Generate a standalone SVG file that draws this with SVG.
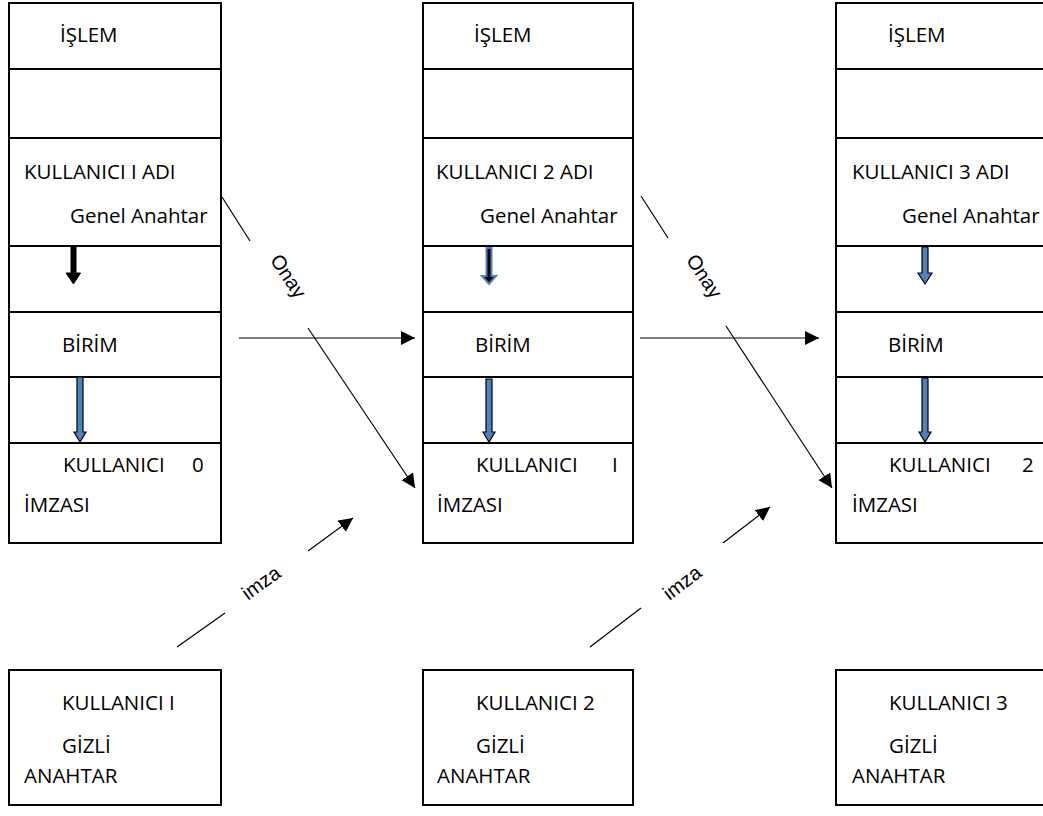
<svg xmlns="http://www.w3.org/2000/svg" width="1043" height="816" viewBox="0 0 1043 816">
<style>
.box{fill:#fff;stroke:#000;stroke-width:2}
.div{stroke:#000;stroke-width:2}
.t{font-family:"Open Sans","Noto Sans",sans-serif;font-size:20.5px;fill:#000}
.lbl{font-family:"Liberation Sans",Arial,sans-serif;font-size:20px;fill:#000}
.con{stroke:#000;stroke-width:1.2;fill:none}
.blk{fill:#000;stroke:#000;stroke-width:1}
.blu{fill:#4f81bd;stroke:#000;stroke-width:1.2}
.inv{fill:#000;stroke:#4f81bd;stroke-width:2}
</style>
<defs>
<marker id="ah" viewBox="0 0 10 10" refX="10" refY="5" markerWidth="14" markerHeight="14" markerUnits="userSpaceOnUse" orient="auto">
<path d="M0,0 L10,5 L0,10 Z" fill="#000"/>
</marker>
</defs>
<rect width="1043" height="816" fill="#fff"/>

<g id="col1">
<rect class="box" x="9" y="3" width="212" height="540"/>
<line class="div" x1="9" y1="69" x2="221" y2="69"/>
<line class="div" x1="9" y1="138" x2="221" y2="138"/>
<line class="div" x1="9" y1="246" x2="221" y2="246"/>
<line class="div" x1="9" y1="312" x2="221" y2="312"/>
<line class="div" x1="9" y1="377" x2="221" y2="377"/>
<line class="div" x1="9" y1="443" x2="221" y2="443"/>
<text class="t" x="60" y="42">İŞLEM</text>
<text class="t" x="24" y="179">KULLANICI I ADI</text>
<text class="t" x="70" y="223">Genel Anahtar</text>
<text class="t" x="62" y="352">BİRİM</text>
<text class="t" x="63" y="472">KULLANICI</text>
<text class="t" x="192" y="472">0</text>
<text class="t" x="24" y="512">İMZASI</text>
<path class="blk" d="M71,247 H76 V273 H80.5 L73.5,284 L66,273 H71 Z"/>
<path class="blu" d="M77,377 H83 V432 H86 L80,442 L74,432 H77 Z"/>
</g>

<g id="col2">
<rect class="box" x="423" y="3" width="210" height="540"/>
<line class="div" x1="423" y1="69" x2="633" y2="69"/>
<line class="div" x1="423" y1="138" x2="633" y2="138"/>
<line class="div" x1="423" y1="246" x2="633" y2="246"/>
<line class="div" x1="423" y1="312" x2="633" y2="312"/>
<line class="div" x1="423" y1="377" x2="633" y2="377"/>
<line class="div" x1="423" y1="443" x2="633" y2="443"/>
<text class="t" x="474" y="42">İŞLEM</text>
<text class="t" x="436" y="179">KULLANICI 2 ADI</text>
<text class="t" x="480" y="223">Genel Anahtar</text>
<text class="t" x="475" y="352">BİRİM</text>
<text class="t" x="476" y="472">KULLANICI</text>
<text class="t" x="612" y="472">I</text>
<text class="t" x="437" y="512">İMZASI</text>
<path class="inv" d="M486.5,248 H491.5 V276 H496 L489,284 L482,276 H486.5 Z"/>
<path class="blu" d="M486,379 H492 V432 H495 L489,442 L483,432 H486 Z"/>
</g>

<g id="col3">
<rect class="box" x="836" y="3" width="212" height="540"/>
<line class="div" x1="836" y1="69" x2="1048" y2="69"/>
<line class="div" x1="836" y1="138" x2="1048" y2="138"/>
<line class="div" x1="836" y1="246" x2="1048" y2="246"/>
<line class="div" x1="836" y1="312" x2="1048" y2="312"/>
<line class="div" x1="836" y1="377" x2="1048" y2="377"/>
<line class="div" x1="836" y1="443" x2="1048" y2="443"/>
<text class="t" x="888" y="42">İŞLEM</text>
<text class="t" x="852" y="179">KULLANICI 3 ADI</text>
<text class="t" x="902" y="223">Genel Anahtar</text>
<text class="t" x="888" y="352">BİRİM</text>
<text class="t" x="889" y="472">KULLANICI</text>
<text class="t" x="1022" y="472">2</text>
<text class="t" x="852" y="512">İMZASI</text>
<path class="blu" d="M922,247 H928 V273 H932 L925,284 L918,273 H922 Z"/>
<path class="blu" d="M922,378 H928 V432 H931 L925,442 L919,432 H922 Z"/>
</g>

<g id="key1">
<rect class="box" x="9" y="670" width="212" height="135"/>
<text class="t" x="62" y="710">KULLANICI I</text>
<text class="t" x="62" y="753">GİZLİ</text>
<text class="t" x="24" y="783">ANAHTAR</text>
</g>
<g id="key2">
<rect class="box" x="423" y="670" width="210" height="135"/>
<text class="t" x="476" y="710">KULLANICI 2</text>
<text class="t" x="476" y="753">GİZLİ</text>
<text class="t" x="437" y="783">ANAHTAR</text>
</g>
<g id="key3">
<rect class="box" x="836" y="670" width="212" height="135"/>
<text class="t" x="889" y="710">KULLANICI 3</text>
<text class="t" x="889" y="753">GİZLİ</text>
<text class="t" x="852" y="783">ANAHTAR</text>
</g>

<g id="connectors">
<line class="con" x1="239" y1="338" x2="415" y2="338" marker-end="url(#ah)"/>
<line class="con" x1="640" y1="338" x2="819" y2="338" marker-end="url(#ah)"/>
<line class="con" x1="222" y1="197" x2="250" y2="241"/>
<line class="con" x1="308" y1="328" x2="415" y2="488" marker-end="url(#ah)"/>
<text class="lbl" transform="translate(287,277) rotate(56.5)" text-anchor="middle" dominant-baseline="middle">Onay</text>
<line class="con" x1="641" y1="196" x2="668" y2="238"/>
<line class="con" x1="726" y1="326" x2="832" y2="488" marker-end="url(#ah)"/>
<text class="lbl" transform="translate(703,277) rotate(56.5)" text-anchor="middle" dominant-baseline="middle">Onay</text>
<line class="con" x1="177" y1="647" x2="225" y2="613"/>
<line class="con" x1="308" y1="551" x2="353" y2="518" marker-end="url(#ah)"/>
<text class="lbl" transform="translate(262,584) rotate(-36)" text-anchor="middle" dominant-baseline="middle">imza</text>
<line class="con" x1="590" y1="647" x2="641" y2="608"/>
<line class="con" x1="723" y1="543" x2="770" y2="507" marker-end="url(#ah)"/>
<text class="lbl" transform="translate(683,584) rotate(-37.5)" text-anchor="middle" dominant-baseline="middle">imza</text>
</g>
</svg>
